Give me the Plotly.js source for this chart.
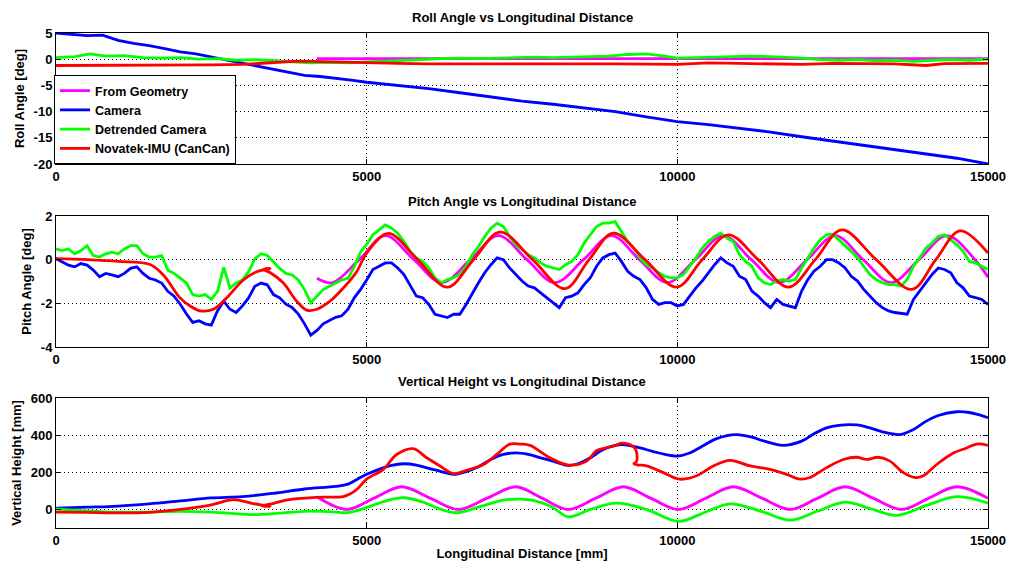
<!DOCTYPE html>
<html>
<head>
<meta charset="utf-8">
<script src="https://cdn.plot.ly/plotly-3.0.1.min.js"></script>
<style>html,body{margin:0;padding:0;background:#fff;}#chart{width:1011px;height:564px;}</style>
</head>
<body>
<div id="chart"></div>
<script>
// ---------------- DATA ----------------
const seriesNames = ['From Geometry', 'Camera', 'Detrended Camera', 'Novatek-IMU (CanCan)'];
const xTicks = [0, 5000, 10000, 15000];
const xTickLabels = ['0', '5000', '10000', '15000'];
const rollTicks = [-20, -15, -10, -5, 0, 5];
const pitchTicks = [-4, -2, 0, 2];
const heightTicks = [0, 200, 400, 600];

// Roll angle [deg]
const rollGeomX = [4200, 15000];
const rollGeomY = [0.1, 0.1];
const rollCamX = [0,250,500,750,1000,1250,1500,1750,2000,2250,2500,2750,3000,3250,3500,3750,4000,4250,4500,4750,5000,5500,6000,6500,7000,7500,8000,8500,9000,9500,10000,10500,11000,11500,12000,12500,13000,13500,14000,14500,15000];
const rollCamY = [5.0,4.8,4.5,4.6,3.6,3.0,2.6,2.0,1.4,1.0,0.4,-0.1,-0.7,-1.3,-2.0,-2.6,-3.1,-3.3,-3.6,-4.0,-4.4,-5.0,-5.6,-6.4,-7.2,-8.0,-8.6,-9.3,-10.0,-11.0,-11.9,-12.5,-13.2,-13.9,-14.8,-15.6,-16.4,-17.2,-18.0,-18.9,-20.0];
const rollDetX = [0,300,550,800,1100,1400,1700,2000,2300,2600,2900,3200,3500,3800,4100,4400,4700,5000,5300,5600,5900,6200,6500,6800,7100,7400,7700,8000,8300,8600,8900,9200,9500,9800,10000,10300,10600,10900,11200,11500,11800,12000,12300,12600,12900,13200,13500,13800,14100,14400,14700,15000];
const rollDetY = [0.3,0.5,1.0,0.6,0.7,0.3,0.2,0.3,0.0,0.1,-0.2,-0.1,-0.3,-0.5,-0.7,-0.6,-0.7,-0.5,-0.4,-0.2,-0.1,0.1,0.2,0.1,0.2,0.3,0.4,0.3,0.4,0.5,0.6,0.9,1.0,0.6,0.2,0.3,0.4,0.5,0.6,0.5,0.4,0.2,-0.1,-0.2,-0.1,-0.3,-0.2,-0.4,-0.2,-0.1,-0.2,0.0];
const rollImuX = [0,1000,2000,2500,3000,3500,3900,4300,5000,5500,6000,7000,8000,9000,10000,10500,11000,12000,12500,13000,13500,14000,14300,15000];
const rollImuY = [-1.2,-1.2,-1.15,-1.1,-1.0,-0.6,-0.35,-0.45,-0.7,-0.8,-0.9,-0.9,-0.85,-0.9,-1.0,-0.7,-0.8,-1.0,-0.8,-0.8,-0.9,-1.2,-0.85,-0.8];

// Pitch angle [deg]
const pitchGeomX = [4200,4450,4880,5300,5760,6210,6670,7120,7580,8030,8490,8940,9390,9840,10290,10740,11190,11640,12090,12540,12990,13440,13890,14340,14790,15000];
const pitchGeomY = [-0.85,-1.05,0,1.1,0,-1.05,0,1.1,0,-1.05,0,1.1,0,-1.05,0,1.1,0,-1.05,0,1.1,0,-1.05,0,1.1,0,-0.8];
const pitchSampleStart = 0, pitchSampleStep = 100;   // camera samples every 100 mm
const pitchCamY = [
 0.05,-0.1,-0.25,-0.33,-0.18,-0.25,-0.48,-0.78,-0.63,-0.7,
 -0.78,-0.63,-0.4,-0.33,-0.63,-0.85,-0.93,-1.07,-1.45,-1.67,
 -2.04,-2.49,-2.87,-2.8,-2.94,-3.0,-2.34,-1.9,-2.27,-2.42,
 -2.12,-1.75,-1.22,-1.07,-1.15,-1.6,-1.75,-2.04,-2.19,-2.49,
 -2.94,-3.46,-3.24,-2.94,-2.8,-2.64,-2.57,-2.27,-1.75,-1.37,
 -0.93,
 -0.45,-0.3,-0.15,-0.15,-0.38,-0.68,-1.2,-1.67,-1.74,-2.05,
 -2.5,-2.58,-2.65,-2.5,-2.5,-2.05,-1.52,-1.06,-0.6,-0.23,
 0.08,0,-0.38,-0.68,-0.98,-1.21,-1.29,-1.52,-1.74,-1.97,
 -2.2,-1.74,-1.67,-1.52,-1.14,-0.83,-0.3,0.08,0.23,0.3,
 -0.08,-0.53,-0.76,-0.91,-1.29,-1.82,-2.05,-1.97,-1.97,-2.12,
 -2.05,-1.67,-1.29,-0.98,-0.6,-0.23,0.08,-0.15,-0.3,-0.76,
 -0.91,-1.44,-1.67,-1.97,-2.2,-1.82,-2.05,-2.12,-2.2,-1.44,
 -0.91,-0.53,-0.3,0,0,-0.15,-0.38,-0.76,-0.98,-1.36,
 -1.67,-1.97,-2.2,-2.35,-2.42,-2.47,-2.5,-1.82,-1.44,-1.06,
 -0.68,-0.38,-0.45,-0.6,-1.06,-1.29,-1.67,-1.74,-1.82,-2.05];
const pitchDetY = [
 0.49,0.42,0.49,0.27,0.42,0.64,0.19,0.12,0.27,0.34,
 0.27,0.49,0.64,0.64,0.27,0.12,0.12,0.19,-0.48,-0.63,
 -0.85,-1.07,-1.6,-1.67,-1.6,-1.82,-1.45,-0.35,-1.3,-1.07,
 -0.93,-0.55,0.04,0.27,0.19,-0.1,-0.4,-0.63,-0.7,-0.93,
 -1.37,-1.97,-1.67,-1.37,-1.22,-1.07,-0.93,-0.85,-0.33,0.34,
 0.7,
 1.14,1.36,1.59,1.44,1.21,0.83,0.38,0.08,-0.08,-0.38,
 -0.83,-1.06,-0.91,-0.83,-0.68,-0.3,0.23,0.6,1.06,1.44,
 1.67,1.52,1.06,0.68,0.45,0.23,0.08,-0.15,-0.3,-0.38,
 -0.45,-0.23,-0.08,0.23,0.76,1.14,1.52,1.67,1.67,1.74,
 1.29,0.83,0.53,0.08,-0.23,-0.38,-0.6,-0.76,-0.83,-0.83,
 -0.68,-0.3,0.08,0.53,0.83,1.06,1.21,0.98,0.83,0.23,
 -0.08,-0.3,-0.83,-1.06,-1.14,-0.98,-0.91,-0.98,-0.91,-0.38,
 0.08,0.53,0.91,1.14,1.17,0.91,0.68,0.38,0.08,-0.3,
 -0.68,-0.91,-1.06,-1.14,-1.14,-1.21,-0.91,-0.3,0.08,0.53,
 0.76,1.06,1.14,0.91,0.68,0.38,-0.08,-0.15,-0.3,-0.45];
const pitchImuX = [0,500,1000,1513,1727,1996,2157,2318,2532,2747,3015,3230,3444,3340,3450,3659,3873,4034,4195,4410,4624,4839,5000,5349,5820,6298,6720,7146,7670,8192,8580,8970,9480,9990,10400,10822,11300,11788,12220,12646,13200,13772,14160,14550,15000];
const pitchImuY = [0.05,0,-0.08,-0.22,-0.7,-1.75,-2.12,-2.34,-2.27,-1.75,-0.93,-0.55,-0.4,-0.45,-0.6,-1.07,-1.9,-2.31,-2.27,-1.9,-1.3,-0.55,0.3,1.2,0,-1.26,0,1.26,0,-1.33,0,1.21,0,-1.26,0,1.14,0,-1.26,0,1.36,0,-1.36,0,1.32,0.3];

// Vertical height [mm]
const hGeomX = [4200,4678,5120,5563,6020,6475,6940,7400,7820,8246,8690,9131,9570,10016,10460,10901,11360,11813,12260,12698,13150,13610,14050,14496,15000];
const hGeomY = [68,0,61,122,61,0,61,122,61,0,61,122,61,0,61,122,61,0,61,122,61,0,61,122,60];
const hCamX = [0,500,1000,1500,2000,2500,3000,3500,4000,4500,4700,4850,5000,5200,5400,5600,5800,6000,6200,6400,6600,6800,7000,7200,7400,7600,7800,8000,8246,8400,8600,8800,9000,9131,9400,9600,9800,9989,10200,10400,10600,10800,10955,11200,11400,11706,12000,12200,12400,12600,12886,13100,13300,13584,13800,14000,14200,14496,14700,14850,15000];
const hCamY = [7,12,18,30,46,62,69,87,110,124,136,163,189,216,237,246,239,221,204,189,204,230,269,296,304,296,278,260,237,246,278,322,345,349,331,313,296,287,304,340,377,398,403,389,368,345,368,407,439,453,455,439,418,403,430,474,506,526,522,510,494];
const hDetX = [0,500,1000,1500,2000,2500,3000,3200,3600,4000,4400,4700,5000,5300,5600,5900,6200,6450,6800,7200,7500,7800,8000,8246,8600,9024,9500,10016,10450,10848,11350,11813,12250,12698,13100,13530,14000,14496,15000];
const hDetY = [3,-8,-15,-14,-10,-15,-25,-28,-20,-10,-12,-17,10,45,63,40,0,-18,12,50,55,38,10,-40,0,34,0,-64,-15,30,-10,-58,-10,39,5,-32,20,69,34];
const hImuX = [0,500,1000,1500,2000,2500,2854,3150,3444,3310,3450,3700,4195,4625,4730,4850,5000,5268,5483,5751,5966,6180,6395,6610,6878,7092,7307,7468,7629,7951,8246,8541,8702,8970,9104,9238,9330,9345,9300,9360,9506,9775,10043,10311,10579,10848,11170,11492,11760,11974,12135,12403,12672,12886,13047,13235,13422,13637,13825,13959,14174,14442,14657,14818,15000];
const hImuY = [-14,-16,-19,-16,0,25,53,33,16,20,28,50,65,69,83,110,163,216,296,327,278,234,193,211,242,296,352,352,345,278,239,260,317,340,357,349,322,260,246,240,234,198,163,181,234,264,234,216,189,163,172,225,269,281,269,281,260,198,172,181,242,304,331,352,345];

// ---------------- BUILD ----------------
const pitchCamX = pitchCamY.map((_, i) => pitchSampleStart + i * pitchSampleStep);
const pitchDetX = pitchDetY.map((_, i) => pitchSampleStart + i * pitchSampleStep);

const colors = ['#ff00ff', '#0000ff', '#00ff00', '#ff0000'];
const LW = 2.8;
const FONT = 'Liberation Sans, Arial, Helvetica, sans-serif';

function tr(x, y, k, axisIdx, shape) {
  const sfx = axisIdx === 1 ? '' : String(axisIdx);
  return {
    x: x, y: y, type: 'scatter', mode: 'lines',
    name: seriesNames[k],
    line: {color: colors[k], width: LW, shape: shape || 'linear', smoothing: 1},
    xaxis: 'x' + sfx, yaxis: 'y' + sfx,
    showlegend: axisIdx === 1,
    hoverinfo: 'skip'
  };
}

const data = [
  tr(rollGeomX, rollGeomY, 0, 1),
  tr(rollCamX, rollCamY, 1, 1),
  tr(rollDetX, rollDetY, 2, 1),
  tr(rollImuX, rollImuY, 3, 1),
  tr(pitchGeomX, pitchGeomY, 0, 2, 'spline'),
  tr(pitchCamX, pitchCamY, 1, 2),
  tr(pitchDetX, pitchDetY, 2, 2),
  tr(pitchImuX, pitchImuY, 3, 2, 'spline'),
  tr(hGeomX, hGeomY, 0, 3, 'spline'),
  tr(hCamX, hCamY, 1, 3, 'spline'),
  tr(hDetX, hDetY, 2, 3, 'spline'),
  tr(hImuX, hImuY, 3, 3, 'spline')
];

const W = 1011, H = 564;
const xDom = [56 / W, 988 / W];
function yDom(top, bottom) { return [(H - bottom) / H, (H - top) / H]; }
const tickFont = {family: FONT, size: 13, color: '#000', weight: 'bold'};
const GRID_DASH = '1px,3px';

function xAx(anchor, title) {
  const a = {
    domain: xDom, anchor: anchor, range: [0, 15000],
    tickmode: 'array', tickvals: xTicks, ticktext: xTickLabels,
    ticks: 'inside', ticklen: 5, tickcolor: '#000', mirror: 'ticks',
    showline: true, linecolor: '#000', linewidth: 1,
    showgrid: true, gridcolor: '#000', griddash: GRID_DASH, gridwidth: 1,
    zeroline: false, tickfont: tickFont, fixedrange: true
  };
  if (title) a.title = {text: title, font: tickFont, standoff: 2};
  return a;
}
function yAx(anchor, dom, range, ticks, title) {
  return {
    domain: dom, anchor: anchor, range: range,
    tickmode: 'array', tickvals: ticks, ticktext: ticks.map(String),
    ticks: 'inside', ticklen: 5, tickcolor: '#000', mirror: 'ticks',
    showline: true, linecolor: '#000', linewidth: 1,
    showgrid: true, gridcolor: '#000', griddash: GRID_DASH, gridwidth: 1,
    zeroline: false, tickfont: tickFont, fixedrange: true,
    title: {text: title, font: tickFont, standoff: 6}
  };
}

const titleFont = {family: FONT, size: 13, color: '#000', weight: 'bold'};
function ttl(text, ypx) {
  return {text: text, xref: 'paper', yref: 'paper', x: 522 / W, y: (H - ypx) / H,
          xanchor: 'center', yanchor: 'middle', showarrow: false, font: titleFont};
}

const layout = {
  width: W, height: H,
  margin: {l: 0, r: 0, t: 0, b: 0},
  paper_bgcolor: '#fff', plot_bgcolor: '#fff',
  xaxis: xAx('y'),
  yaxis: yAx('x', yDom(33, 164), [-20, 5], rollTicks, 'Roll Angle [deg]'),
  xaxis2: xAx('y2'),
  yaxis2: yAx('x2', yDom(216, 347), [-4, 2], pitchTicks, 'Pitch Angle [deg]'),
  xaxis3: xAx('y3', 'Longitudinal Distance [mm]'),
  yaxis3: yAx('x3', yDom(398, 528), [-100, 600], heightTicks, 'Vertical Height [mm]'),
  annotations: [
    ttl('Roll Angle vs Longitudinal Distance', 18),
    ttl('Pitch Angle vs Longitudinal Distance', 201),
    ttl('Vertical Height vs Longitudinal Distance', 382)
  ],
  legend: {
    x: 54 / W, y: (H - 164) / H, xanchor: 'left', yanchor: 'bottom',
    bgcolor: '#fff', bordercolor: '#000', borderwidth: 1,
    font: {family: FONT, size: 12.5, color: '#000', weight: 'bold'},
    tracegroupgap: 0, itemwidth: 30
  },
  showlegend: true
};

Plotly.newPlot('chart', data, layout, {displayModeBar: false, staticPlot: true});
</script>
</body>
</html>
